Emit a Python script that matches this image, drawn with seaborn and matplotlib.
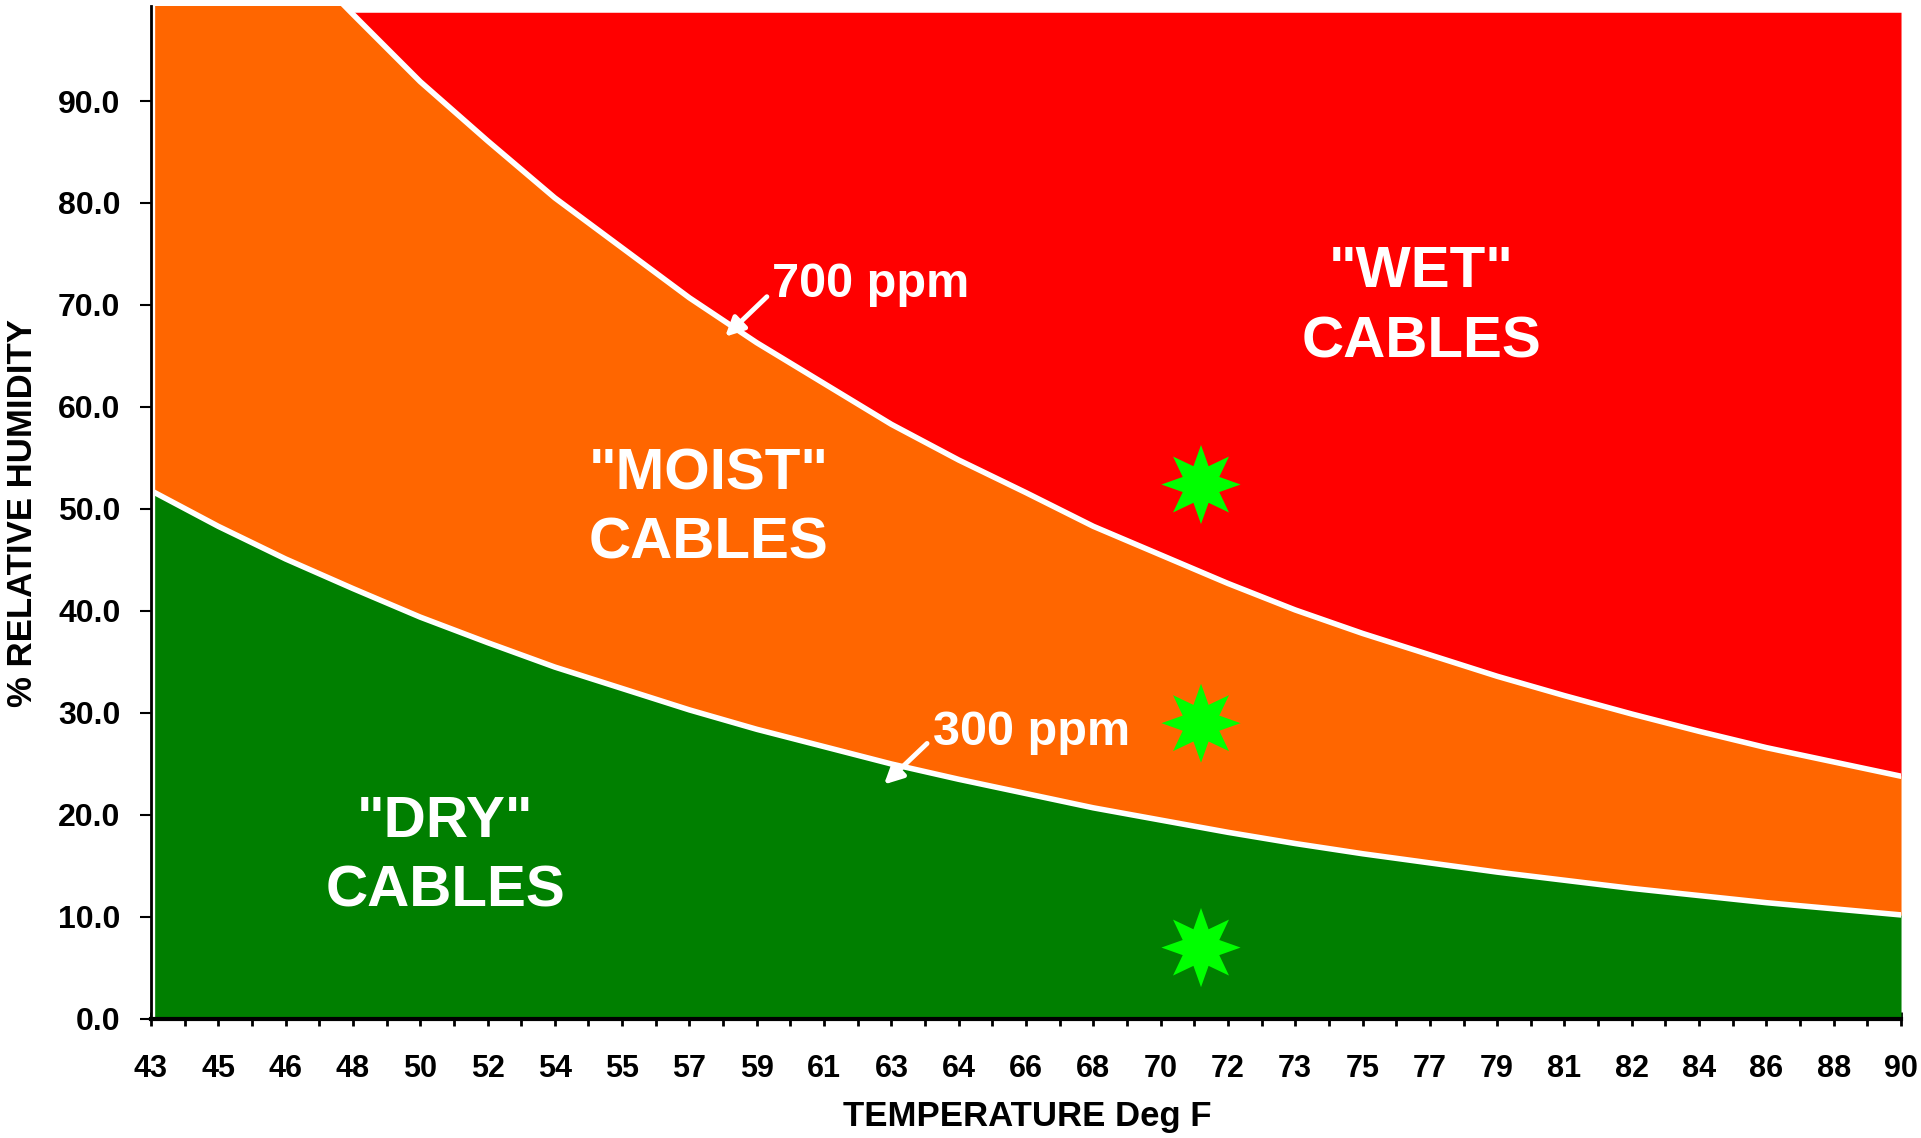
# Import the packages
import matplotlib
matplotlib.use("Agg")
import pandas as pd
import matplotlib.pyplot as plt
import seaborn as sns
from matplotlib.path import Path
from matplotlib.ticker import FixedLocator, MultipleLocator

# Chart data
temp_labels = ["43", "45", "46", "48", "50", "52", "54", "55", "57", "59", "61", "63", "64",
               "66", "68", "70", "72", "73", "75", "77", "79", "81", "82", "84", "86", "88", "90"]
rh_300ppm = [51.8, 48.3, 45.1, 42.2, 39.4, 36.9, 34.5, 32.4, 30.3, 28.4, 26.7, 25.0, 23.5,
             22.1, 20.7, 19.5, 18.3, 17.2, 16.2, 15.3, 14.4, 13.6, 12.8, 12.1, 11.4, 10.8, 10.2]
rh_700ppm = [120.9, 112.7, 105.2, 98.5, 91.9, 86.1, 80.5, 75.6, 70.7, 66.3, 62.3, 58.3, 54.8,
             51.6, 48.3, 45.5, 42.7, 40.1, 37.8, 35.7, 33.6, 31.7, 29.9, 28.2, 26.6, 25.2, 23.8]
star_pos = [15.6, 15.6, 15.6]
star_rh = [52.4, 29.0, 7.0]
rh_ticks = [0, 10, 20, 30, 40, 50, 60, 70, 80, 90]

# Colours
dry_color = "#007f00"
moist_color = "#ff6600"
wet_color = "#ff0000"
star_color = "#00ff00"

# Build the table
df = pd.DataFrame({
    "pos": range(len(temp_labels)),
    "rh300": rh_300ppm,
    "rh700": rh_700ppm,
})
stars = pd.DataFrame({"pos": star_pos, "rh": star_rh})

# Style
sns.set_theme(style="white")
plt.rcParams["font.family"] = ["Liberation Sans", "DejaVu Sans"]
plt.rcParams["font.weight"] = "bold"

fig = plt.figure(figsize=(19.21, 11.38), dpi=100)
ax = fig.add_axes([0.0786, 0.1046, 0.911, 0.890])

y_top = 99.3
red_top = 98.7

# Filled zones
ax.fill_between(df["pos"], 0, df["rh300"], color=dry_color, lw=0, zorder=1)
ax.fill_between(df["pos"], df["rh300"], df["rh700"], color=moist_color, lw=0, zorder=1)
ax.fill_between(df["pos"], df["rh700"], red_top, where=df["rh700"] < red_top,
                interpolate=True, color=wet_color, lw=0, zorder=1)

# Boundary curves
sns.lineplot(data=df, x="pos", y="rh300", color="white", lw=4, ax=ax, zorder=3)
sns.lineplot(data=df, x="pos", y="rh700", color="white", lw=4, ax=ax, zorder=3)
ax.axvline(0, color="white", lw=6, zorder=2)

# Star markers
star_marker = Path.unit_regular_star(8, 0.5)
sns.scatterplot(data=stars, x="pos", y="rh", marker=star_marker, s=3250,
                color=star_color, edgecolor="none", ax=ax, zorder=4)

# Zone labels
zone_font = dict(color="white", fontsize=42, fontweight="bold", ha="center",
                 va="center", linespacing=1.38, zorder=5)
ax.text(18.87, 69.8, '"WET"\nCABLES', **zone_font)
ax.text(8.28, 50.0, '"MOIST"\nCABLES', **zone_font)
ax.text(4.37, 15.9, '"DRY"\nCABLES', **zone_font)

# ppm callouts
arrow = dict(arrowstyle="-|>", color="white", lw=3.5, mutation_scale=28)
ax.annotate("", xy=(8.50, 66.7), xytext=(9.18, 71.0), arrowprops=arrow, zorder=5)
ax.text(9.23, 72.0, "700 ppm", color="white", fontsize=35, fontweight="bold",
        ha="left", va="center", zorder=5)
ax.annotate("", xy=(10.86, 22.8), xytext=(11.56, 27.2), arrowprops=arrow, zorder=5)
ax.text(11.62, 28.1, "300 ppm", color="white", fontsize=35, fontweight="bold",
        ha="left", va="center", zorder=5)

# Axes
ax.set_xlim(0, len(temp_labels) - 1)
ax.set_ylim(0, y_top)
ax.xaxis.set_major_locator(FixedLocator(list(range(len(temp_labels)))))
ax.xaxis.set_minor_locator(MultipleLocator(0.5))
ax.set_xticklabels(temp_labels, fontsize=22, fontweight="bold", color="black")
ax.set_yticks(rh_ticks)
ax.set_yticklabels([f"{v:.1f}" for v in rh_ticks], fontsize=23, fontweight="bold",
                   color="black")
ax.tick_params(axis="x", which="both", direction="inout", length=10, width=2,
               color="black", pad=20, bottom=True)
ax.tick_params(axis="y", direction="out", length=8, width=1.5, color="black",
               pad=14, left=True)

for side in ["top", "right"]:
    ax.spines[side].set_visible(False)
ax.spines["left"].set_color("black")
ax.spines["left"].set_linewidth(2)
ax.spines["bottom"].set_color("black")
ax.spines["bottom"].set_linewidth(3)
ax.spines["left"].set_zorder(6)
ax.spines["bottom"].set_zorder(6)

ax.set_xlabel("TEMPERATURE Deg F", fontsize=25, fontweight="bold", va="center",
              color="black")
ax.xaxis.set_label_coords(0.5006, -0.0967)
ax.set_ylabel("% RELATIVE HUMIDITY", fontsize=25, fontweight="bold", va="center",
              color="black")
ax.yaxis.set_label_coords(-0.0736, 0.5)

plt.savefig("out.png", dpi=100)
